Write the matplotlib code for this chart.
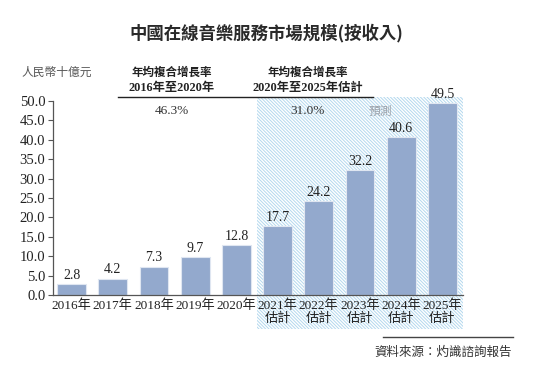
import matplotlib
matplotlib.use("Agg")
import matplotlib.pyplot as plt
from matplotlib.patches import Rectangle
from matplotlib.lines import Line2D
import matplotlib.transforms as mtransforms

years = ["2016年", "2017年", "2018年", "2019年", "2020年",
         "2021年\n估計", "2022年\n估計", "2023年\n估計", "2024年\n估計", "2025年\n估計"]
values = [2.8, 4.2, 7.3, 9.7, 12.8, 17.7, 24.2, 32.2, 40.6, 49.5]
yticks = [0, 5, 10, 15, 20, 25, 30, 35, 40, 45, 50]
title = "中國在線音樂服務市場規模(按收入)"
unit = "人民幣十億元"
cagr_heads = ["年均複合增長率", "年均複合增長率"]
cagr_periods = ["2016年至2020年", "2020年至2025年估計"]
cagr_values = ["46.3%", "31.0%"]
forecast_label = "預測"
source = "資料來源：灼識諮詢報告"

MIX = ["Liberation Serif", "Noto Sans CJK TC", "DejaVu Sans"]
CJK = ["Noto Sans CJK TC", "DejaVu Sans"]

plt.rcParams["hatch.linewidth"] = 0.7

W, H = 550, 367
fig = plt.figure(figsize=(5.5, 3.67), dpi=100)
fig.patch.set_facecolor("white")

def fx(px):
    return px / W

def fy(py):
    return 1 - py / H

ax_left, ax_right = 53, 463
ax_top, ax_bottom = 101, 295
ax = fig.add_axes([fx(ax_left), fy(ax_bottom), fx(ax_right - ax_left), (ax_bottom - ax_top) / H])
ax.patch.set_visible(False)

x = list(range(len(values)))
ax.set_xlim(-0.45, 9.5)
ax.set_ylim(0, 50)

# forecast hatched region (x in data, y in figure coords)
trans = mtransforms.blended_transform_factory(ax.transData, fig.transFigure)
rect = Rectangle((4.5, fy(329)), 5.0, fy(97) - fy(329), transform=trans,
                 facecolor="white", edgecolor="#b3d8ee", hatch="\\" * 10,
                 linewidth=0, clip_on=False, zorder=0)
ax.add_patch(rect)

bars = ax.bar(x, values, width=0.7, color="#93a9cd", edgecolor="#dfe6f1",
              linewidth=0.8, zorder=2)
for xi, v in zip(x, values):
    ax.text(xi, v + 0.6, f"{v:.1f}", ha="center", va="bottom",
            fontsize=10, family=MIX, color="#222222", zorder=3)

ax.set_yticks(yticks)
ax.set_yticklabels([f"{t:.1f}" for t in yticks], family=MIX, fontsize=10.5, color="#222222")
ax.set_xticks(x)
ax.set_xticklabels(years, family=MIX, fontsize=9.5, color="#222222", linespacing=1.1)
ax.tick_params(axis="x", length=0, pad=3)
ax.tick_params(axis="y", length=3.5, width=0.8, color="#555555", pad=2)
for s in ["top", "right"]:
    ax.spines[s].set_visible(False)
for s in ["left", "bottom"]:
    ax.spines[s].set_color("#555555")
    ax.spines[s].set_linewidth(0.9)

# title
fig.text(fx(266), fy(33), title, ha="center", va="center", fontsize=12.5,
         family=CJK, fontweight="bold", color="#2a2a2a")

# unit
fig.text(fx(57), fy(72), unit, ha="center", va="center", fontsize=8.5,
         family=CJK, style="italic", color="#555555")

# CAGR headers
for cx, head, per, val in zip([172, 308], cagr_heads, cagr_periods, cagr_values):
    fig.text(fx(cx), fy(72), head, ha="center", va="center", fontsize=8.3,
             family=CJK, fontweight="bold", color="#222222")
    fig.text(fx(cx), fy(88), per, ha="center", va="center", fontsize=8.8,
             family=MIX, fontweight="bold", color="#222222")
    fig.text(fx(cx), fy(111), val, ha="center", va="center", fontsize=9.5,
             family=MIX, color="#333333")

fig.add_artist(Line2D([fx(118), fx(373)], [fy(97), fy(97)], color="#222222", lw=1.0))

fig.text(fx(380), fy(111), forecast_label, ha="center", va="center", fontsize=8.5,
         family=CJK, style="italic", color="#9aa0a8")

# source
fig.add_artist(Line2D([fx(383), fx(513)], [fy(337), fy(337)], color="#444444", lw=1.0))
fig.text(fx(512), fy(352), source, ha="right", va="center", fontsize=9,
         family=CJK, color="#333333")

fig.savefig("out.png", dpi=100)
